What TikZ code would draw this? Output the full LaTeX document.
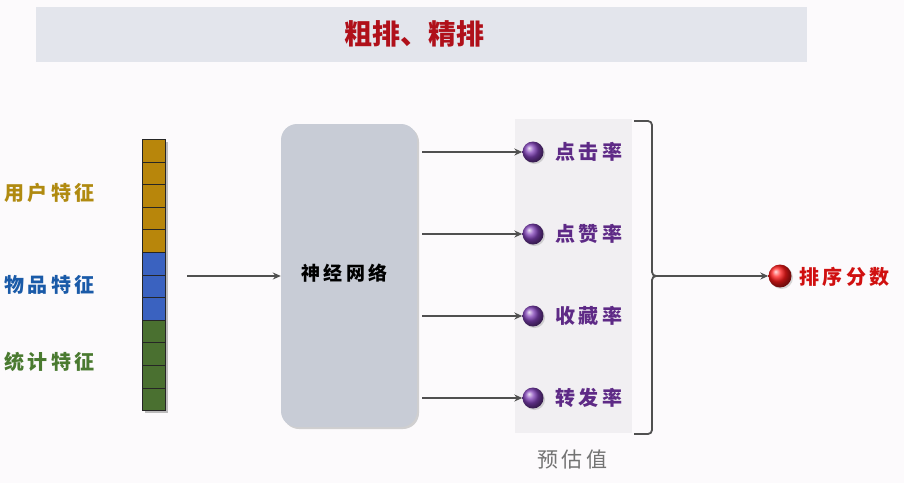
\documentclass[tikz,border=0pt]{standalone}
\usepackage{fontspec}
\setmainfont{Noto Sans CJK SC}
\newfontfamily\cjk{Noto Sans CJK SC}
\newfontfamily\cjksp[LetterSpace=18]{Noto Sans CJK SC}
\usetikzlibrary{arrows.meta,shadows,shadings}
\definecolor{bgc}{HTML}{FCFAFC}
\definecolor{titlebg}{HTML}{E3E5EC}
\definecolor{titlered}{HTML}{B0101A}
\definecolor{gold}{HTML}{B8860B}
\definecolor{bluec}{HTML}{3A62C0}
\definecolor{greenc}{HTML}{4A7030}
\definecolor{goldtxt}{HTML}{B08A10}
\definecolor{bluetxt}{HTML}{1A5AA8}
\definecolor{greentxt}{HTML}{4A7A30}
\definecolor{nnfill}{HTML}{C8CCD6}
\definecolor{panel}{HTML}{F1EFF2}
\definecolor{purpc}{HTML}{8040B8}
\definecolor{purptxt}{HTML}{5E2A86}
\definecolor{arrowc}{HTML}{505050}
\definecolor{redc}{HTML}{D01010}
\tikzset{
  cell/.style={draw=black!85,line width=0.8pt,minimum width=23pt,minimum height=22.6pt,inner sep=0pt,anchor=north west},
  flab/.style={font=\cjksp\bfseries\fontsize{20}{20}\selectfont,anchor=west,inner sep=0pt},
  conn/.style={draw=arrowc,line width=1.6pt,-{Stealth[length=8pt,width=7pt]}},
  ball/.style={circle,minimum size=21pt,inner sep=0pt,ball color=purpc,drop shadow={shadow xshift=1.5pt,shadow yshift=-1.5pt,opacity=0.3}},
  olab/.style={font=\cjksp\bfseries\fontsize{20}{20}\selectfont,text=purptxt,anchor=west,inner sep=0pt},
}
\begin{document}
\begin{tikzpicture}[x=1pt,y=-1pt]
\fill[bgc] (0,0) rectangle (904,483);
\useasboundingbox (0,0) rectangle (904,483);
% title
\node[fill=titlebg,minimum width=771pt,minimum height=55pt,inner sep=0pt] (title) at (421.5,34.5) {};
\node[font=\cjk\bfseries\fontsize{28}{28}\selectfont,text=titlered] (titletxt) at (414,34) {粗排、精排};
% feature column shadow
\fill[black,opacity=0.25] (145,142) rectangle (168,413);
% feature cells
\foreach \i in {0,...,4} {\node[cell,fill=gold] (c\i) at (142,{139+\i*22.6}) {};}
\foreach \i in {5,6,7} {\node[cell,fill=bluec] (c\i) at (142,{139+\i*22.6}) {};}
\foreach \i in {8,...,11} {\node[cell,fill=greenc] (c\i) at (142,{139+\i*22.6}) {};}
% feature labels
\node[flab,text=goldtxt] (fu) at (4,193) {用户特征};
\node[flab,text=bluetxt] (fi) at (4,285) {物品特征};
\node[flab,text=greentxt] (fs) at (4,362) {统计特征};
% neural net box
\node[draw=none,fill=nnfill,rounded corners=16pt,minimum width=136pt,minimum height=303pt,inner sep=0pt,
  drop shadow={shadow xshift=2pt,shadow yshift=-2pt,opacity=0.35}] (nn) at (349,275.5) {};
\node[font=\cjksp\bfseries\fontsize{19}{19}\selectfont,anchor=west,inner sep=0pt] (nntxt) at (301,273) {神经网络};
\coordinate (inL) at (187,276);
\draw[conn] (inL) -- (nn.west |- inL);
% output panel
\node[fill=panel,minimum width=117pt,minimum height=314pt,inner sep=0pt] (panel) at (573.5,276) {};
\node[font=\cjksp\fontsize{21}{21}\selectfont,text=black!55,anchor=west,inner sep=0pt] (est) at (537,460) {预估值};
% outputs
\foreach \y/\t/\n in {152/点击率/a,234/点赞率/b,316/收藏率/c,398/转发率/d} {
  \coordinate (s\n) at (422,\y);
  \node[ball] (b\n) at (533,\y) {};
  \node[olab] (t\n) at (555,\y) {\t};
  \draw[conn] (s\n) -- (b\n.west);
}
% brace
\coordinate (bt) at (634,121);
\coordinate (bb) at (634,434);
\coordinate (tip) at (660,276);
\draw[arrowc,line width=1.8pt,rounded corners=4pt]
  (bt) -- (652,121) -- (652,276) -- (tip);
\draw[arrowc,line width=1.8pt,rounded corners=4pt]
  (bb) -- (652,434) -- (652,276) -- (tip);
% final
\node[circle,minimum size=23pt,inner sep=0pt,ball color=red!90!white,drop shadow={shadow xshift=1.5pt,shadow yshift=-1.5pt,opacity=0.3}] (rb) at (780,276) {};
\draw[conn] (tip) -- (rb.west);
\node[font=\cjksp\bfseries\fontsize{20}{20}\selectfont,text=redc,anchor=west,inner sep=0pt] (rank) at (799,277) {排序分数};
\end{tikzpicture}
\end{document}
